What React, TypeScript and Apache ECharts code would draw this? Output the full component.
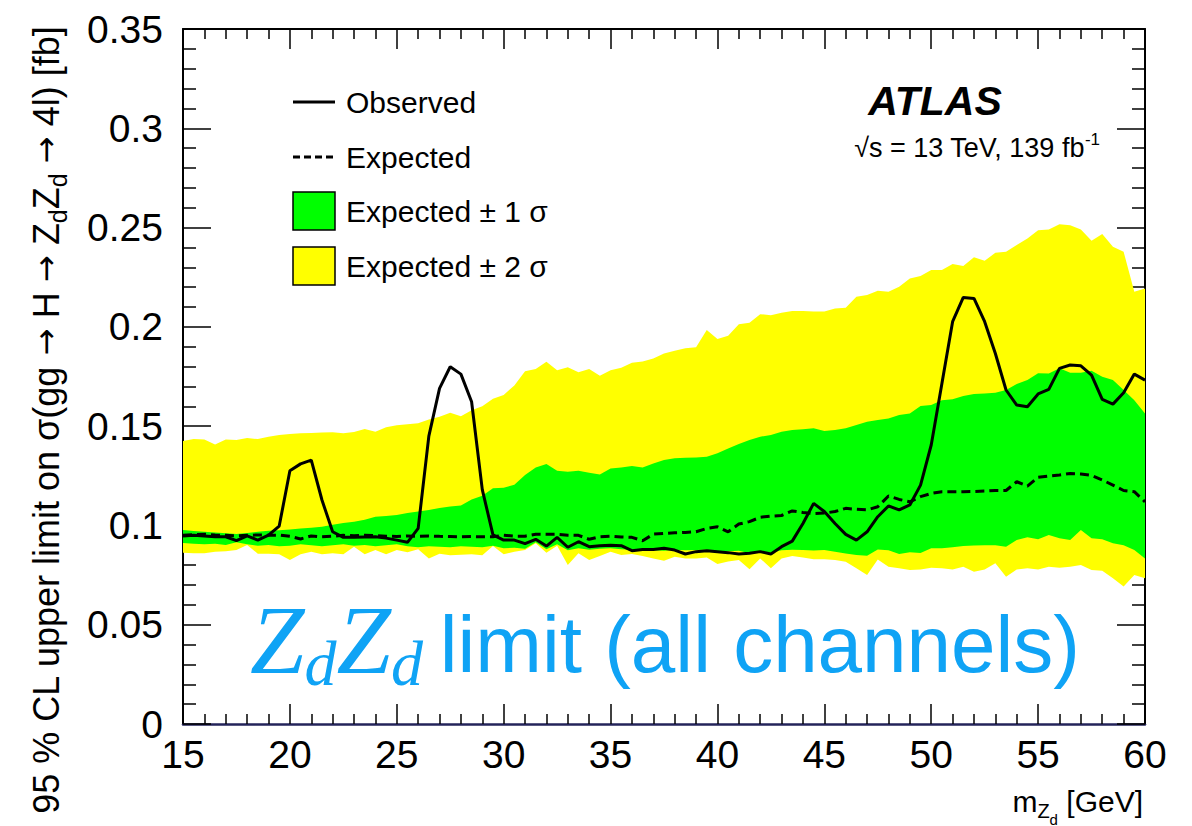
import React, { useEffect, useRef } from "react";
import * as echarts from "echarts";

// ---------------- data ----------------
const mass = [
  15, 15.5, 16, 16.5, 17, 17.5, 18, 18.5, 19, 19.5,
  20, 20.5, 21, 21.5, 22, 22.5, 23, 23.5, 24, 24.5,
  25, 25.5, 26, 26.5, 27, 27.5, 28, 28.5, 29, 29.5,
  30, 30.5, 31, 31.5, 32, 32.5, 33, 33.5, 34, 34.5,
  35, 35.5, 36, 36.5, 37, 37.5, 38, 38.5, 39, 39.5,
  40, 40.5, 41, 41.5, 42, 42.5, 43, 43.5, 44, 44.5,
  45, 45.5, 46, 46.5, 47, 47.5, 48, 48.5, 49, 49.5,
  50, 50.5, 51, 51.5, 52, 52.5, 53, 53.5, 54, 54.5,
  55, 55.5, 56, 56.5, 57, 57.5, 58, 58.5, 59, 59.5,
  60,
];

const observed = [
  0.0947, 0.0951, 0.0947, 0.0943, 0.0943, 0.0923, 0.0947, 0.0926, 0.0951, 0.0997,
  0.1275, 0.131, 0.1329, 0.1128, 0.0968, 0.094, 0.094, 0.0942, 0.0943, 0.0936,
  0.0926, 0.0915, 0.0985, 0.145, 0.169, 0.1799, 0.1762, 0.1623, 0.118, 0.0952,
  0.0926, 0.0926, 0.0908, 0.093, 0.0896, 0.094, 0.089, 0.0918, 0.0893, 0.0898,
  0.09, 0.0898, 0.0873, 0.0879, 0.0879, 0.0885, 0.0876, 0.0856, 0.0868, 0.0873,
  0.0868, 0.0863, 0.0856, 0.086, 0.0868, 0.0856, 0.0893, 0.0921, 0.101, 0.1111,
  0.107, 0.101, 0.0955, 0.0926, 0.0968, 0.1044, 0.1098, 0.1078, 0.1103, 0.1203,
  0.1405, 0.1715, 0.2026, 0.2148, 0.2143, 0.2026, 0.1866, 0.1682, 0.1606, 0.1598,
  0.1662, 0.1685, 0.1791, 0.1808, 0.1804, 0.1757, 0.1635, 0.1611, 0.1668, 0.1762,
  0.1732,
];

const expected = [
  0.0951, 0.0953, 0.0956, 0.0952, 0.095, 0.0948, 0.095, 0.0952, 0.0951, 0.0951,
  0.0945, 0.0932, 0.0947, 0.0943, 0.0946, 0.095, 0.0948, 0.0951, 0.0949, 0.0946,
  0.0944, 0.0947, 0.0945, 0.0947, 0.0945, 0.0944, 0.0943, 0.0944, 0.0943, 0.0943,
  0.0951, 0.0946, 0.0946, 0.0956, 0.0955, 0.0956, 0.0951, 0.095, 0.093, 0.0943,
  0.0946, 0.0942, 0.094, 0.0923, 0.0956, 0.096, 0.0963, 0.0965, 0.0968, 0.0985,
  0.0993, 0.0968, 0.1007, 0.1019, 0.1041, 0.1047, 0.105, 0.1073, 0.1065, 0.106,
  0.1062, 0.107, 0.1086, 0.1081, 0.1078, 0.1094, 0.1148, 0.1131, 0.1119, 0.1145,
  0.1161, 0.117, 0.117, 0.117, 0.1171, 0.1173, 0.1176, 0.1176, 0.122, 0.1198,
  0.1242, 0.1249, 0.1254, 0.1262, 0.1259, 0.1252, 0.1229, 0.1203, 0.1176, 0.117,
  0.1119,
];

const sigma1Up = [
  0.0977, 0.0972, 0.0968, 0.0965, 0.096, 0.0957, 0.0962, 0.0968, 0.0973, 0.0976,
  0.098, 0.0985, 0.0988, 0.0993, 0.1003, 0.1012, 0.1018, 0.1028, 0.1044, 0.1048,
  0.1052, 0.1062, 0.107, 0.1078, 0.1088, 0.1095, 0.11, 0.113, 0.115, 0.1187,
  0.119, 0.1205, 0.1254, 0.1292, 0.1309, 0.1275, 0.127, 0.1275, 0.1265, 0.1257,
  0.1287, 0.1292, 0.1299, 0.1292, 0.1312, 0.1329, 0.1338, 0.1341, 0.1342, 0.1346,
  0.1363, 0.1388, 0.141, 0.143, 0.1447, 0.1455, 0.1472, 0.148, 0.1484, 0.1489,
  0.1475, 0.148, 0.1489, 0.1506, 0.1522, 0.1531, 0.1539, 0.1556, 0.1564, 0.1601,
  0.1606, 0.1631, 0.1635, 0.1652, 0.1662, 0.1665, 0.1668, 0.1682, 0.1712, 0.1732,
  0.1766, 0.1765, 0.1791, 0.1769, 0.1769, 0.1779, 0.1749, 0.1732, 0.1682, 0.1631,
  0.1564,
];

const sigma1Down = [
  0.0912, 0.0908, 0.0905, 0.0908, 0.0902, 0.0915, 0.0905, 0.0898, 0.0902, 0.0895,
  0.0898, 0.0905, 0.09, 0.0895, 0.09, 0.0905, 0.0898, 0.0902, 0.0895, 0.09,
  0.0905, 0.0895, 0.089, 0.0895, 0.0892, 0.089, 0.0895, 0.0892, 0.089, 0.0898,
  0.0885, 0.0888, 0.0882, 0.0915, 0.088, 0.0905, 0.0875, 0.0885, 0.0878, 0.0882,
  0.0885, 0.088, 0.0878, 0.088, 0.0875, 0.0872, 0.0878, 0.0875, 0.0876, 0.0878,
  0.0868, 0.087, 0.0872, 0.086, 0.0872, 0.0862, 0.0875, 0.0878, 0.0876, 0.0874,
  0.0876, 0.0868, 0.0859, 0.0851, 0.0847, 0.0879, 0.0875, 0.0856, 0.0865, 0.0861,
  0.0885, 0.0885, 0.089, 0.0896, 0.0899, 0.09, 0.09, 0.0893, 0.0926, 0.094,
  0.093, 0.0952, 0.0935, 0.0926, 0.0977, 0.0935, 0.093, 0.091, 0.09, 0.0876,
  0.0834,
];

const sigma2Up = [
  0.1425, 0.1435, 0.1433, 0.1408, 0.1433, 0.143, 0.144, 0.1435, 0.1447, 0.1455,
  0.146, 0.1464, 0.1466, 0.1468, 0.1469, 0.1464, 0.147, 0.1485, 0.1472, 0.1494,
  0.1505, 0.151, 0.1515, 0.1534, 0.1547, 0.1568, 0.155, 0.158, 0.16, 0.1638,
  0.1657, 0.1705, 0.1777, 0.1788, 0.1824, 0.1782, 0.1796, 0.1771, 0.1788, 0.1754,
  0.1782, 0.1794, 0.1819, 0.1826, 0.1841, 0.1866, 0.188, 0.1892, 0.1897, 0.1984,
  0.1939, 0.1955, 0.2013, 0.2021, 0.2064, 0.2059, 0.2071, 0.208, 0.208, 0.2077,
  0.2077, 0.2093, 0.2096, 0.2152, 0.216, 0.2182, 0.2177, 0.2202, 0.2244, 0.2256,
  0.2286, 0.2286, 0.2316, 0.2306, 0.235, 0.2333, 0.2373, 0.2378, 0.2412, 0.2445,
  0.2487, 0.249, 0.2517, 0.2512, 0.249, 0.2434, 0.2467, 0.2403, 0.2378, 0.2177,
  0.2193,
];

const sigma2Down = [
  0.0863, 0.086, 0.086, 0.0868, 0.087, 0.0876, 0.0901, 0.0858, 0.0858, 0.0855,
  0.0826, 0.0855, 0.0868, 0.0855, 0.086, 0.0855, 0.0893, 0.0855, 0.0876, 0.0855,
  0.0876, 0.0865, 0.088, 0.0834, 0.0858, 0.085, 0.0852, 0.0855, 0.085, 0.0896,
  0.0855, 0.0868, 0.0876, 0.091, 0.0863, 0.0898, 0.0801, 0.086, 0.0826, 0.0846,
  0.0868, 0.0851, 0.0856, 0.0846, 0.0834, 0.0822, 0.0842, 0.0834, 0.0834, 0.0839,
  0.0806, 0.0818, 0.0826, 0.0779, 0.0834, 0.0784, 0.0834, 0.0846, 0.0839, 0.083,
  0.083, 0.0826, 0.0817, 0.0784, 0.075, 0.0829, 0.0792, 0.0784, 0.0775, 0.0778,
  0.0787, 0.0784, 0.0778, 0.0792, 0.0767, 0.0778, 0.0809, 0.0742, 0.0778, 0.0784,
  0.0778, 0.0792, 0.0787, 0.0792, 0.0801, 0.0775, 0.0772, 0.0734, 0.0692, 0.075,
  0.0734,
];

const xMin = 15;
const xMax = 60;
const xStep = 5;
const yMin = 0;
const yMax = 0.35;
const yStep = 0.05;

const legendLabels = ["Observed", "Expected", "Expected \u00b1 1 \u03c3", "Expected \u00b1 2 \u03c3"];

// ---------------- styling ----------------
const SANS = '"Liberation Sans", Arial, Helvetica, sans-serif';
const SERIF = '"Liberation Serif", "Times New Roman", serif';
const ARROW = '"DejaVu Sans", sans-serif';
const BLUE = "#0fa3f5";
const YELLOW = "#ffff00";
const GREEN = "#00ff00";

type Part = {
  text: string;
  size: number;
  family?: string;
  style?: string;
  weight?: string;
  dy?: number;
  fill?: string;
};

let measureCtx: CanvasRenderingContext2D | null = null;
function fontOf(p: Part) {
  return `${p.style || "normal"} ${p.weight || "normal"} ${p.size}px ${p.family || SANS}`;
}
function measure(p: Part) {
  if (!measureCtx) measureCtx = document.createElement("canvas").getContext("2d");
  measureCtx!.font = fontOf(p);
  return measureCtx!.measureText(p.text).width;
}

function textRun(parts: Part[], x: number, y: number, align: "left" | "right" | "center", rotation = 0) {
  const widths = parts.map(measure);
  const total = widths.reduce((a, b) => a + b, 0);
  let cx = align === "left" ? 0 : align === "right" ? -total : -total / 2;
  const children = parts.map((p, i) => {
    const el = {
      type: "text",
      x: cx,
      y: p.dy || 0,
      style: {
        text: p.text,
        font: fontOf(p),
        fill: p.fill || "#000",
        textAlign: "left",
        align: "left",
        textVerticalAlign: "middle",
        verticalAlign: "middle",
      },
    };
    cx += widths[i];
    return el;
  });
  return { type: "group", x, y, rotation, z: 100, silent: true, children };
}

function pairs(xs: number[], ys: number[]) {
  return xs.map((x, i) => [x, ys[i]]);
}

// band drawn as one polygon through the axis scales
function bandSeries(name: string, lo: number[], hi: number[], color: string, z: number) {
  return {
    type: "custom",
    name,
    silent: true,
    z,
    clip: true,
    data: mass.map((x, i) => [x, lo[i], hi[i]]),
    encode: { x: 0, y: [1, 2] },
    renderItem: (params: any, api: any) => {
      if (params.dataIndex !== 0) return null;
      const upper = mass.map((x, i) => api.coord([x, hi[i]]));
      const lower = mass.map((x, i) => api.coord([x, lo[i]])).reverse();
      return {
        type: "polygon",
        shape: { points: upper.concat(lower) },
        style: { fill: color, stroke: "none" },
      };
    },
  };
}

function buildOption() {
  const tickStyle = { color: "#000", width: 1.5 };
  const axisFont = { fontFamily: SANS, fontSize: 39, color: "#000" };

  const baseX = {
    type: "value",
    min: xMin,
    max: xMax,
    interval: xStep,
    splitLine: { show: false },
    axisTick: { show: true, inside: true, length: 20, lineStyle: tickStyle },
    minorTick: { show: true, splitNumber: 5, length: 10, lineStyle: tickStyle },
    minorSplitLine: { show: false },
  };
  const baseY = {
    type: "value",
    min: yMin,
    max: yMax,
    interval: yStep,
    splitLine: { show: false },
    axisTick: { show: true, inside: true, length: 28, lineStyle: tickStyle },
    minorTick: { show: true, splitNumber: 5, length: 13, lineStyle: tickStyle },
    minorSplitLine: { show: false },
  };

  const line = { type: "line", symbol: "none", silent: true, animation: false, xAxisIndex: 0, yAxisIndex: 0 };

  const lx1 = 293;
  const lx2 = 335;
  const ltx = 346;
  const ly = [102, 157, 211, 266];
  const legendEls: any[] = [
    { type: "line", z: 100, shape: { x1: lx1, y1: ly[0], x2: lx2, y2: ly[0] }, style: { stroke: "#000", lineWidth: 3 } },
    {
      type: "line",
      z: 100,
      shape: { x1: lx1, y1: ly[1], x2: lx2, y2: ly[1] },
      style: { stroke: "#000", lineWidth: 3, lineDash: [7, 4] },
    },
    {
      type: "rect",
      z: 100,
      shape: { x: lx1, y: ly[2] - 19, width: lx2 - lx1, height: 38 },
      style: { fill: GREEN, stroke: "#000", lineWidth: 1.5 },
    },
    {
      type: "rect",
      z: 100,
      shape: { x: lx1, y: ly[3] - 19, width: lx2 - lx1, height: 38 },
      style: { fill: YELLOW, stroke: "#000", lineWidth: 1.5 },
    },
    ...legendLabels.map((t, i) => textRun([{ text: t, size: 30 }], ltx, ly[i], "left")),
  ];

  const arrow = (s: number): Part => ({ text: " \u2192 ", size: s, family: ARROW });

  const graphic: any[] = [
    ...legendEls,
    textRun([{ text: "ATLAS", size: 41, weight: "bold", style: "italic" }], 935, 101, "center"),
    textRun(
      [
        { text: "\u221as = 13 TeV, 139 fb", size: 27 },
        { text: "-1", size: 17, dy: -9 },
      ],
      1100,
      148,
      "right"
    ),
    textRun(
      [
        { text: "Z", size: 98, family: SERIF, style: "italic", fill: BLUE },
        { text: "d", size: 64, family: SERIF, style: "italic", fill: BLUE, dy: 23 },
        { text: "Z", size: 98, family: SERIF, style: "italic", fill: BLUE },
        { text: "d", size: 64, family: SERIF, style: "italic", fill: BLUE, dy: 23 },
      ],
      250,
      640,
      "left"
    ),
    textRun([{ text: "limit (all channels)", size: 80, fill: BLUE }], 1080, 644, "right"),
    textRun(
      [
        { text: "m", size: 30 },
        { text: "Z", size: 20, dy: 10 },
        { text: "d", size: 15, dy: 18 },
        { text: " [GeV]", size: 30 },
      ],
      1143,
      801,
      "right"
    ),
    textRun(
      [
        { text: "95 % CL upper limit on \u03c3(gg", size: 36 },
        arrow(32),
        { text: "H", size: 36 },
        arrow(32),
        { text: "Z", size: 36 },
        { text: "d", size: 25, dy: 12 },
        { text: "Z", size: 36 },
        { text: "d", size: 25, dy: 12 },
        arrow(32),
        { text: "4l) [fb]", size: 36 },
      ],
      46,
      420,
      "center",
      Math.PI / 2
    ),
  ];

  return {
    animation: false,
    backgroundColor: "#ffffff",
    grid: { left: 183, top: 29, width: 962, height: 695, containLabel: false },
    xAxis: [
      {
        ...baseX,
        position: "bottom",
        axisLine: { show: true, onZero: false, lineStyle: { color: "#23235a", width: 2.5 } },
        axisLabel: { ...axisFont, margin: 11 },
      },
      {
        ...baseX,
        position: "top",
        axisLine: { show: true, onZero: false, lineStyle: { color: "#000", width: 2 } },
        axisLabel: { show: false },
      },
    ],
    yAxis: [
      {
        ...baseY,
        position: "left",
        axisLine: { show: true, onZero: false, lineStyle: { color: "#000", width: 2 } },
        axisLabel: {
          ...axisFont,
          margin: 20,
          formatter: (v: number) => String(parseFloat(v.toFixed(2))),
        },
      },
      {
        ...baseY,
        position: "right",
        axisLine: { show: true, onZero: false, lineStyle: { color: "#000", width: 2 } },
        axisLabel: { show: false },
      },
    ],
    series: [
      bandSeries("Expected \u00b1 2 \u03c3", sigma2Down, sigma2Up, YELLOW, 1),
      bandSeries("Expected \u00b1 1 \u03c3", sigma1Down, sigma1Up, GREEN, 2),
      {
        ...line,
        name: "Expected",
        data: pairs(mass, expected),
        lineStyle: { color: "#000", width: 3, type: [9, 5] },
        z: 3,
      },
      {
        ...line,
        name: "Observed",
        data: pairs(mass, observed),
        lineStyle: { color: "#000", width: 3 },
        z: 4,
      },
    ],
    graphic,
  };
}

export default function App() {
  const ref = useRef<HTMLDivElement>(null);
  useEffect(() => {
    document.body.style.margin = "0";
    const chart = echarts.init(ref.current!, null, { renderer: "svg" });
    chart.setOption(buildOption() as any);
    return () => chart.dispose();
  }, []);
  return (
    <div
      ref={ref}
      style={{ position: "fixed", left: 0, top: 0, width: 1192, height: 826, background: "#fff" }}
    />
  );
}
